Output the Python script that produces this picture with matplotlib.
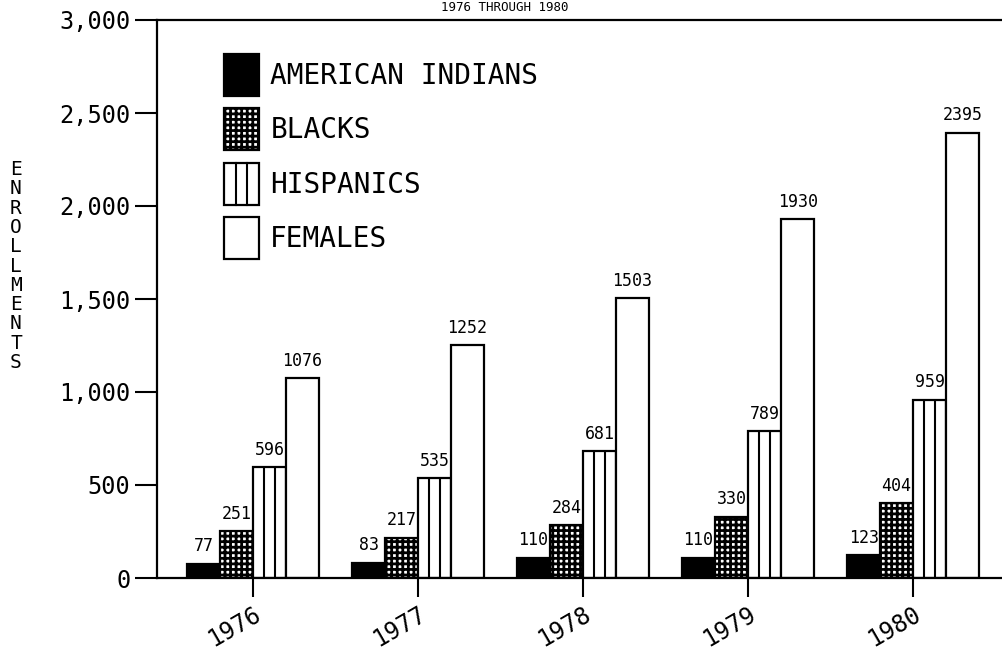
import matplotlib
matplotlib.use('Agg')
import matplotlib.pyplot as plt
import matplotlib.transforms as mtransforms
from matplotlib.patches import Rectangle
from matplotlib.lines import Line2D
from matplotlib.legend_handler import HandlerBase
import numpy as np

# ---- data ----
years = ['1976', '1977', '1978', '1979', '1980']
series_names = ['AMERICAN INDIANS', 'BLACKS', 'HISPANICS', 'FEMALES']
american_indians = [77, 83, 110, 110, 123]
blacks = [251, 217, 284, 330, 404]
hispanics = [596, 535, 681, 789, 959]
females = [1076, 1252, 1503, 1930, 2395]
y_ticks = [0, 500, 1000, 1500, 2000, 2500, 3000]
title_text = '1976 THROUGH 1980'
ylabel_text = 'ENROLLMENTS'

plt.rcParams['font.family'] = ['DejaVu Sans Mono', 'DejaVu Sans']
plt.rcParams['hatch.linewidth'] = 2.0

W, H = 1003, 653
fig = plt.figure(figsize=(W / 100, H / 100), dpi=100)
ax = fig.add_axes([157 / W, 1 - 578 / H, 1 - 157 / W, (578 - 20) / H])

x = np.arange(len(years))
bw = 0.2
offsets = [-1.5, -0.5, 0.5, 1.5]
series = [american_indians, blacks, hispanics, females]
styles = [dict(facecolor='black'),
          dict(facecolor='white', hatch='+++'),
          dict(facecolor='white'),
          dict(facecolor='white')]

containers = []
for vals, off, st, name in zip(series, offsets, styles, series_names):
    bc = ax.bar(x + off * bw, vals, bw, edgecolor='black', linewidth=1.6,
                label=name, **st)
    containers.append(bc)
    ax.bar_label(bc, padding=6, fontsize=12)

# vertical stripes inside the Hispanic bars
for r in containers[2]:
    x0, ww, h = r.get_x(), r.get_width(), r.get_height()
    ax.vlines([x0 + ww / 3, x0 + 2 * ww / 3], 0, h, color='black', lw=1.5)


class HandlerThirds(HandlerBase):
    def create_artists(self, legend, orig_handle, xdescent, ydescent,
                       width, height, fontsize, trans):
        x0, y0 = -xdescent, -ydescent
        rect = Rectangle((x0, y0), width, height, facecolor='white',
                         edgecolor='black', lw=1.6, transform=trans)
        l1 = Line2D([x0 + width / 3] * 2, [y0, y0 + height], color='black',
                    lw=1.5, transform=trans)
        l2 = Line2D([x0 + 2 * width / 3] * 2, [y0, y0 + height], color='black',
                    lw=1.5, transform=trans)
        return [rect, l1, l2]


handles = [c.patches[0] for c in containers]
leg = ax.legend(handles, series_names, loc='upper left',
                bbox_to_anchor=(53 / 846, (578 - 40) / 558),
                frameon=False, fontsize=20, borderpad=0,
                handlelength=1.27, handleheight=1.95, labelspacing=0.45,
                handletextpad=0.4,
                handler_map={handles[2]: HandlerThirds()})

ax.set_xlim(-0.582, 4.545)
ax.set_ylim(0, 3000)
ax.set_yticks(y_ticks)
ax.set_yticklabels([f'{v:,}' for v in y_ticks], fontsize=17)
ax.set_xticks(x)
ax.set_xticklabels(years, fontsize=17, rotation=30, ha='right', va='top',
                   rotation_mode='anchor')
offset = mtransforms.ScaledTranslation(0.12, 0, fig.dpi_scale_trans)
for lbl in ax.get_xticklabels():
    lbl.set_transform(lbl.get_transform() + offset)

ax.tick_params(axis='y', direction='out', length=16, width=1.5, pad=3)
ax.tick_params(axis='x', direction='out', length=14, width=1.5, pad=3)
ax.spines['right'].set_visible(False)
for s in ['left', 'top', 'bottom']:
    ax.spines[s].set_linewidth(1.6)

fig.text(16 / W, 1 - 266 / H, '\n'.join(ylabel_text), fontsize=14,
         ha='center', va='center', linespacing=1.02)
fig.text(505 / W, 1 - 14 / H, title_text, fontsize=9, ha='center',
         va='bottom')

fig.savefig('out.png', dpi=100)
